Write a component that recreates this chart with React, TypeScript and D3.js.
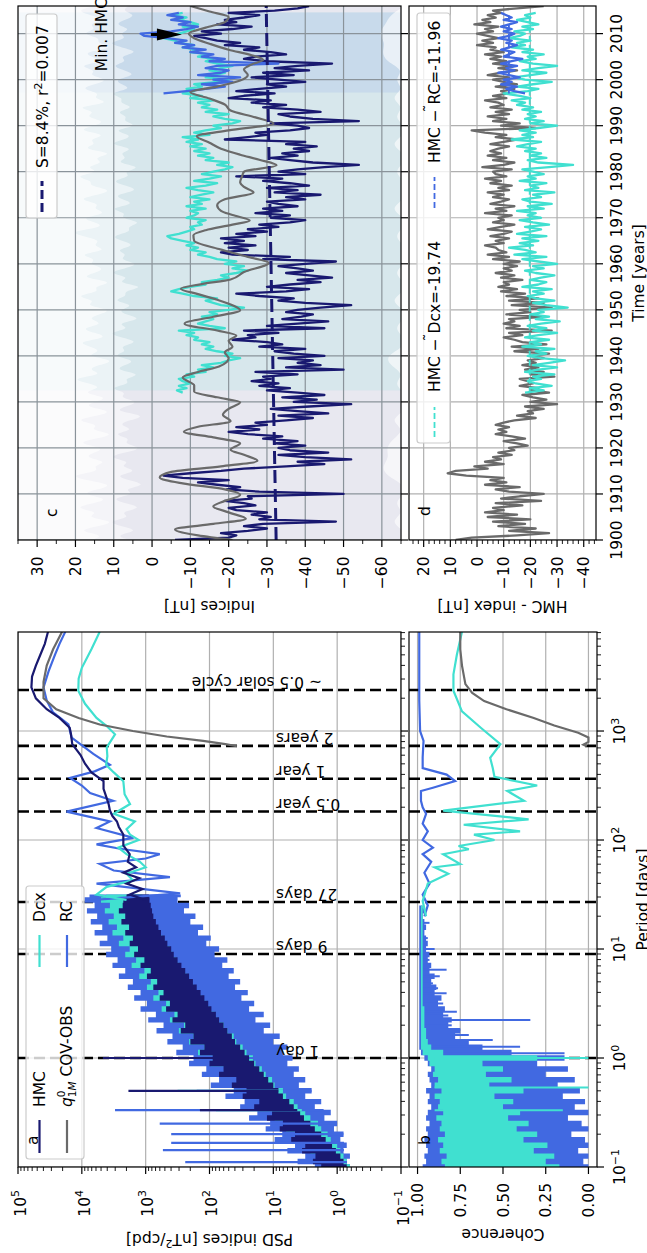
import React from 'react';
import * as d3 from 'd3';

const FONT = "'DejaVu Sans', sans-serif";
const NAVY = '#191970';
const TURQ = '#40e0d0';
const ROYAL = '#4169e1';
const GRAY = '#6a6a6a';
const GRID = '#b0b0b0';
const GRIDC = '#8a939a';
const FS = 15.5;

// ---------------- panel a / b : spectra ----------------
const periodTicks = [0.1, 1, 10, 100, 1000];
const periodTickExp = ['\u22121', '0', '1', '2', '3'];
const psdTicks = [0.1, 1, 10, 100, 1000, 10000, 100000];
const psdTickExp = ['\u22121', '0', '1', '2', '3', '4', '5'];
const cohTicks = [0, 0.25, 0.5, 0.75, 1];
const cohTickLabels = ['0.00', '0.25', '0.50', '0.75', '1.00'];
const markerPeriods = [1, 9, 27, 182.625, 365.25, 730.5, 2380];
const markerLabels = ['1 day', '9 days', '27 days', '0.5 year', '1 year', '2 years', '~ 0.5 solar cycle'];

// noisy short-period part: log10 period nodes (step 0.05) and log10 PSD envelopes
const bandLogP = [-1.0, -0.95, -0.9, -0.85, -0.8, -0.75, -0.7, -0.65, -0.6, -0.55, -0.5, -0.45, -0.4, -0.35, -0.3, -0.25, -0.2, -0.15, -0.1, -0.05, 0.0, 0.05, 0.1, 0.15, 0.2, 0.25, 0.3, 0.35, 0.4, 0.45, 0.5, 0.55, 0.6, 0.65, 0.7, 0.75, 0.8, 0.85, 0.9, 0.95, 1.0, 1.05, 1.1, 1.15, 1.2, 1.25, 1.3, 1.35, 1.4, 1.45, 1.5];
const rcBandHi = [0.35, 0.62, 0.5, 0.78, 0.66, 0.98, 0.86, 1.12, 1.05, 1.38, 1.25, 1.52, 1.45, 1.75, 1.62, 1.98, 1.85, 2.12, 2.05, 2.32, 2.25, 2.52, 2.42, 2.66, 2.58, 2.83, 2.72, 2.96, 2.84, 3.08, 2.98, 3.18, 3.08, 3.28, 3.2, 3.42, 3.32, 3.52, 3.44, 3.62, 3.54, 3.72, 3.6, 3.8, 3.68, 3.86, 3.76, 3.92, 3.8, 3.96, 3.88];
const rcBandLo = [-0.2, -0.15, -0.2, -0.1, -0.15, -0.05, -0.1, 0.05, 0.0, 0.2, 0.1, 0.35, 0.25, 0.5, 0.4, 0.6, 0.5, 0.68, 0.6, 0.78, 0.7, 0.85, 0.78, 1.0, 0.9, 1.15, 1.05, 1.28, 1.15, 1.38, 1.3, 1.5, 1.4, 1.6, 1.52, 1.7, 1.62, 1.8, 1.72, 1.92, 1.85, 2.05, 1.98, 2.18, 2.1, 2.3, 2.22, 2.4, 2.32, 2.5, 2.45];
const dcxBandHi = [0.1, 0.25, 0.2, 0.42, 0.35, 0.6, 0.52, 0.8, 0.7, 0.98, 0.9, 1.18, 1.08, 1.38, 1.3, 1.58, 1.48, 1.78, 1.7, 1.98, 1.9, 2.18, 2.08, 2.32, 2.25, 2.48, 2.4, 2.62, 2.55, 2.75, 2.68, 2.88, 2.8, 2.98, 2.92, 3.1, 3.02, 3.22, 3.15, 3.32, 3.25, 3.42, 3.35, 3.52, 3.45, 3.58, 3.5, 3.64, 3.56, 3.7, 3.62];
const dcxBandLo = [-0.2, -0.15, -0.1, -0.05, 0.0, 0.1, 0.15, 0.25, 0.3, 0.42, 0.5, 0.62, 0.68, 0.8, 0.85, 0.98, 1.02, 1.12, 1.18, 1.28, 1.32, 1.42, 1.48, 1.58, 1.62, 1.72, 1.78, 1.88, 1.92, 2.0, 2.05, 2.12, 2.18, 2.25, 2.3, 2.36, 2.42, 2.48, 2.52, 2.58, 2.62, 2.7, 2.74, 2.8, 2.84, 2.88, 2.92, 2.96, 3.0, 3.04, 3.05];
const hmcBandHi = [0.25, 0.38, 0.34, 0.55, 0.5, 0.72, 0.66, 0.9, 0.85, 1.1, 1.02, 1.3, 1.22, 1.48, 1.42, 1.65, 1.58, 1.85, 1.78, 2.0, 1.95, 2.15, 2.08, 2.3, 2.25, 2.45, 2.38, 2.58, 2.5, 2.68, 2.62, 2.78, 2.72, 2.88, 2.82, 2.98, 2.92, 3.08, 3.02, 3.18, 3.12, 3.25, 3.2, 3.32, 3.26, 3.38, 3.32, 3.42, 3.36, 3.35, 3.3];
const hmcBandLo = [-0.15, -0.1, -0.05, 0.02, 0.08, 0.18, 0.25, 0.35, 0.42, 0.52, 0.58, 0.68, 0.75, 0.85, 0.92, 1.0, 1.08, 1.15, 1.22, 1.3, 1.38, 1.45, 1.52, 1.6, 1.65, 1.72, 1.78, 1.85, 1.9, 1.97, 2.02, 2.08, 2.14, 2.2, 2.26, 2.32, 2.38, 2.44, 2.5, 2.56, 2.6, 2.66, 2.7, 2.76, 2.8, 2.84, 2.88, 2.9, 2.92, 2.94, 2.95];

// smoother long-period part (log10 period, log10 PSD)
const hmcLongLogP = [1.45, 1.5, 1.55, 1.6, 1.65, 1.7, 1.75, 1.8, 1.87, 1.95, 2.05, 2.12, 2.17, 2.22, 2.27, 2.33, 2.4, 2.47, 2.54, 2.62, 2.7, 2.78, 2.88, 2.97, 3.03, 3.12, 3.2, 3.3, 3.4, 3.5, 3.6, 3.7, 3.8, 3.91];
const hmcLongLogPsd = [3.0, 3.25, 3.05, 3.3, 3.1, 3.35, 3.15, 3.28, 3.25, 3.35, 3.35, 3.42, 3.45, 3.52, 3.56, 3.58, 3.62, 3.66, 3.66, 3.85, 3.95, 4.02, 4.15, 4.17, 4.19, 4.35, 4.55, 4.72, 4.79, 4.78, 4.72, 4.65, 4.58, 4.53];
const rcLongLogP = [1.45, 1.51, 1.6, 1.66, 1.72, 1.78, 1.83, 1.87, 1.92, 1.96, 2.02, 2.11, 2.17, 2.26, 2.36, 2.43, 2.5, 2.57, 2.63, 2.69, 2.79, 2.94, 3.06, 3.17, 3.28, 3.4, 3.55, 3.7, 3.8, 3.91];
const rcLongLogPsd = [3.8, 2.46, 3.77, 2.62, 3.5, 3.72, 3.0, 2.78, 3.4, 3.77, 3.19, 3.77, 3.56, 4.24, 3.51, 3.87, 4.0, 4.185, 3.8, 3.56, 3.82, 4.16, 4.21, 4.45, 4.55, 4.6, 4.52, 4.42, 4.35, 4.26];
const dcxLongLogP = [1.45, 1.5, 1.57, 1.63, 1.69, 1.75, 1.8, 1.87, 1.93, 2.0, 2.05, 2.1, 2.17, 2.24, 2.33, 2.42, 2.54, 2.62, 2.69, 2.77, 2.85, 2.97, 3.05, 3.12, 3.25, 3.37, 3.48, 3.58, 3.75, 3.91];
const dcxLongLogPsd = [3.3, 3.77, 3.61, 3.2, 3.3, 3.0, 3.09, 3.3, 3.43, 3.11, 3.245, 3.3, 3.17, 3.5, 3.245, 3.33, 3.35, 3.5, 3.62, 3.6, 3.61, 3.48, 3.62, 3.77, 3.95, 4.055, 4.05, 4.0, 3.85, 3.72];
const q1mLongLogP = [2.86, 2.88, 2.91, 2.95, 3.0, 3.06, 3.12, 3.2, 3.3, 3.45, 3.6, 3.75, 3.91];
const q1mLongLogPsd = [1.57, 1.75, 2.1, 2.67, 3.2, 3.72, 4.05, 4.4, 4.6, 4.6, 4.55, 4.45, 4.31];

// spectral spikes at daily harmonics (period [days], log10 PSD peak)
const hmcSpikeP = [1.0, 0.5, 0.333];
const hmcSpikeLog = [3.67, 3.27, 2.15];
const rcSpikeP = [0.333, 0.25, 0.2, 0.1667, 0.143, 0.111, 1.0, 0.5];
const rcSpikeLog = [3.48, 2.78, 2.6, 2.6, 2.73, 2.38, 2.5, 2.2];
const dcxSpikeP = [0.5, 0.333];
const dcxSpikeLog = [2.5, 1.9];

// coherence (log10 period nodes, step 0.05)
const cohBandLogP = [-1.0, -0.95, -0.9, -0.85, -0.8, -0.75, -0.7, -0.65, -0.6, -0.55, -0.5, -0.45, -0.4, -0.35, -0.3, -0.25, -0.2, -0.15, -0.1, -0.05, 0.0, 0.05, 0.1, 0.15, 0.2, 0.25, 0.3, 0.35, 0.4, 0.45, 0.5, 0.55, 0.6, 0.65, 0.7, 0.75, 0.8, 0.85, 0.9, 0.95, 1.0, 1.05, 1.1, 1.15, 1.2, 1.25, 1.3, 1.35, 1.4];
const rcCohHi = [0.97, 0.95, 0.96, 0.94, 0.95, 0.96, 0.94, 0.95, 0.93, 0.95, 0.94, 0.92, 0.94, 0.93, 0.95, 0.92, 0.93, 0.94, 0.92, 0.94, 0.96, 0.98, 0.99, 0.99, 0.99, 0.99, 0.99, 0.99, 0.99, 0.99, 0.99, 0.99, 0.99, 0.99, 0.99, 0.99, 0.99, 0.99, 0.99, 0.99, 0.99, 0.99, 0.99, 0.99, 0.99, 0.99, 0.99, 0.99, 0.99];
const rcCohLo = [0.0, 0.03, 0.0, 0.06, 0.0, 0.02, 0.1, 0.0, 0.04, 0.12, 0.0, 0.08, 0.02, 0.15, 0.05, 0.18, 0.08, 0.25, 0.12, 0.3, 0.14, 0.45, 0.62, 0.7, 0.78, 0.75, 0.82, 0.8, 0.85, 0.84, 0.88, 0.86, 0.9, 0.89, 0.92, 0.9, 0.93, 0.92, 0.94, 0.93, 0.95, 0.94, 0.95, 0.96, 0.95, 0.96, 0.97, 0.96, 0.97];
const dcxCohHi = [0.84, 0.86, 0.83, 0.87, 0.85, 0.88, 0.84, 0.87, 0.86, 0.89, 0.85, 0.88, 0.87, 0.9, 0.86, 0.9, 0.88, 0.91, 0.9, 0.93, 0.94, 0.97, 0.98, 0.98, 0.98, 0.98, 0.98, 0.98, 0.98, 0.98, 0.98, 0.98, 0.98, 0.98, 0.98, 0.98, 0.98, 0.98, 0.98, 0.98, 0.98, 0.98, 0.98, 0.98, 0.98, 0.98, 0.98, 0.98, 0.98];
const dcxCohLo = [0.17, 0.25, 0.2, 0.32, 0.24, 0.38, 0.3, 0.42, 0.35, 0.47, 0.4, 0.5, 0.44, 0.55, 0.38, 0.58, 0.45, 0.6, 0.5, 0.62, 0.3, 0.85, 0.92, 0.94, 0.95, 0.95, 0.96, 0.96, 0.96, 0.96, 0.97, 0.97, 0.97, 0.97, 0.97, 0.97, 0.97, 0.97, 0.97, 0.97, 0.97, 0.97, 0.97, 0.97, 0.97, 0.97, 0.97, 0.97, 0.97];
const rcCohLogP = [1.3, 1.4, 1.5, 1.6, 1.7, 1.8, 1.87, 1.93, 2.0, 2.08, 2.15, 2.24, 2.3, 2.36, 2.45, 2.48, 2.54, 2.6, 2.66, 2.76, 2.91, 3.0, 3.28, 3.6, 3.91];
const rcCoh = [0.96, 0.94, 0.97, 0.93, 0.96, 0.92, 0.97, 0.91, 0.97, 0.94, 0.97, 0.95, 0.97, 0.98, 0.98, 0.91, 0.78, 0.83, 0.97, 0.97, 0.965, 0.985, 0.99, 0.99, 0.99];
const dcxCohLogP = [1.3, 1.44, 1.6, 1.69, 1.75, 1.78, 1.87, 1.915, 1.945, 2.0, 2.05, 2.08, 2.14, 2.19, 2.27, 2.36, 2.45, 2.5, 2.58, 2.66, 2.755, 2.88, 3.03, 3.18, 3.37, 3.52, 3.7, 3.91];
const dcxCoh = [0.95, 0.97, 0.94, 0.82, 0.9, 0.75, 0.85, 0.7, 0.76, 0.55, 0.67, 0.4, 0.73, 0.35, 0.85, 0.377, 0.475, 0.3, 0.55, 0.56, 0.575, 0.515, 0.63, 0.74, 0.79, 0.79, 0.77, 0.74];
const q1mCohLogP = [2.86, 2.875, 2.9, 2.94, 2.985, 3.05, 3.12, 3.2, 3.275, 3.35, 3.43, 3.6, 3.75, 3.91];
const q1mCoh = [0.01, 0.03, 0.0, 0.0, 0.06, 0.2, 0.32, 0.48, 0.61, 0.68, 0.72, 0.74, 0.75, 0.75];
const rcCohSpikeLogP = [0.043, 0.104, 0.165, 0.21, 0.257, 0.3, 0.349, 0.39, 0.425, 0.5, 0.594, 0.64, 0.685, 0.75, 0.81, 0.9, 1.0, 1.1, 1.24];
const rcCohSpike = [0.14, 0.40, 0.56, 0.7, 0.75, 0.8, 0.34, 0.82, 0.77, 0.85, 0.83, 0.88, 0.91, 0.87, 0.83, 0.93, 0.9, 0.94, 0.93];
const dcxCohSpikeLogP = [0.0, -0.27, -0.48];
const dcxCohSpike = [0.0, 0.0, 0.15];

// ---------------- panel c / d : time series ----------------
const yearTicks = [1900, 1910, 1920, 1930, 1940, 1950, 1960, 1970, 1980, 1990, 2000, 2010];
const idxTicks = [30, 20, 10, 0, -10, -20, -30, -40, -50, -60];
const diffTicks = [20, 10, 0, -10, -20, -30, -40];
const hmcStartYear = 1900;
const dcxStartYear = 1932;
const rcStartYear = 1997;
const sampleStep = 0.5;
const hmcIndex = [
  -6, -20, -22, -18, -25, -30, -24, -29, -48, -28,
  -31, -26, -30, -22, -20, -27, -24, -19, -26, -25,
  -50, -28, -19.5, -23, -17, -12, -20, -8, -3, -10,
  -18, -24, -35, -45, -38, -52, -40, -33, -46, -36,
  -33, -40, -32, -38, -29, -34, -25, -20, -28, -22,
  -30, -27, -35, -42, -33, -46, -38, -31, -41, -52,
  -37, -43, -34, -45, -38, -30, -36, -28, -33, -26,
  -31, -29, -38, -27, -50, -35, -44, -38, -42, -33,
  -45, -37, -32, -40, -28, -34, -30, -21, -27, -25,
  -33, -24, -45, -30, -38, -46, -34, -39, -42, -35,
  -38, -44, -52, -40, -33, -37, -28, -22, -35, -41,
  -30, -36, -44, -38, -47, -41, -35, -42, -38, -33,
  -40, -48, -29, -36, -21, -18, -25, -20, -27, -19,
  -24, -18, -27, -22, -30, -25, -33, -28, -36, -40,
  -31, -36, -27, -34, -29, -38, -33, -30, -40, -35,
  -44, -32, -38, -30, -41, -36, -29, -34, -22, -40,
  -33, -38, -45, -54, -42, -36, -31, -38, -34, -41,
  -37, -43, -35, -40, -19, -25, -30, -27, -36, -41,
  -38, -31, -54, -42, -36, -33, -44, -38, -29, -35,
  -26, -31, -20, -24, -32, -22, -28, -35, -30, -40,
  -33, -26, -37, -29, -41, -32, -38, -47, -30, -24,
  -27, -35, -31, -24, -28, -19, -23, -17, -14, -11,
  -18, -13, -21, -26, -17, -22, -19, -24, -28, -20,
  -32, -38, -41];
const dcxIndex = [
  -8, -6.5, -9, -7, -10, -8, -7, -11, -9, -14, -12, -16,
  -13, -18, -20, -23, -19, -21, -17, -14, -16, -13, -15, -11,
  -12, -9, -11, -7, -19, -15, -12, -14, -16, -13, -17, -15,
  -20, -24, -18, -16, -14, -17, -11, -8, -5, -7, -10, -14,
  -13, -17, -20, -18, -22, -25, -21, -24, -19, -22, -17, -15,
  -12, -14, -10, -12, -9, -11, -8, -5, -4, -7, -9, -11,
  -10, -13, -12, -14, -9, -11, -12, -10, -14, -9, -13, -11,
  -15, -10, -13, -16, -12, -9, -14, -17, -11, -15, -18, -13,
  -16, -19, -21, -17, -20, -14, -16, -12, -15, -11, -14, -10,
  -13, -9, -12, -8, -15, -11, -14, -18, -16, -21, -23, -19,
  -16, -20, -14, -17, -13, -15, -12, -16, -10, -13, -8, -11,
  -9, -13, -11, -17, -20, -14, -16, -19, -15, -18, -21, -17,
  -14, -16, -12, -15, -10, -12, -8, -11, -7, -6, -3, -5,
  -7, -9, -11, -8, -12, -10, -7, -9, -5, -8];
const rcIndex = [
  -3, -9, -14, -19, -13, -21, -16, -23, -12, -18, -20, -14,
  -17, -33, -15, -19, -13, -16, -10, -14, -8, -11, -6, -9,
  -4, 2, 3, -5, -9, -12, -7, -10, -5, -8, -4, -7];
const q1mYears = [1900.0, 1901.0, 1902.3, 1903.5, 1904.6, 1906.0, 1907.3, 1908.5, 1909.8, 1911.0, 1912.3, 1913.6, 1914.8, 1916.0, 1917.2, 1918.5, 1919.6, 1921.0, 1922.3, 1923.5, 1924.6, 1925.8, 1927.2, 1928.5, 1929.9, 1931.0, 1932.2, 1933.6, 1935.3, 1936.5, 1937.7, 1939.5, 1940.8, 1942.0, 1943.3, 1944.4, 1945.5, 1947.0, 1948.5, 1949.9, 1951.0, 1952.2, 1953.4, 1954.6, 1955.6, 1956.6, 1958.2, 1960.2, 1961.5, 1963.2, 1965.0, 1966.2, 1967.3, 1968.5, 1969.4, 1970.6, 1971.5, 1972.7, 1974.0, 1975.5, 1976.7, 1977.7, 1979.0, 1980.0, 1981.4, 1982.6, 1983.7, 1985.0, 1986.3, 1987.7, 1989.0, 1990.5, 1991.8, 1993.3, 1994.6, 1995.9, 1997.3, 1998.5, 1999.8, 2001.0, 2002.2, 2003.3, 2004.3, 2005.3, 2006.5, 2007.8, 2009.0, 2010.0, 2011.3, 2012.5, 2013.6, 2014.8, 2016.0];
const q1mIndex = [-21, -12, -6, -16, -24.5, -20, -16, -19, -23, -19, -8, -2, -5, -18, -27.5, -24, -20.5, -23, -16, -8.3, -12, -20.5, -18.5, -20, -23, -17, -11, -11, -8, -12, -17.5, -20, -19, -21, -20, -22, -17, -8.5, -16, -23, -21, -17, -12, -7.5, -13, -20.5, -24, -30.5, -25, -17.5, -11, -10.8, -14, -21, -25.5, -21, -18, -17, -19, -26.5, -24, -23, -23.5, -24, -32.5, -28, -23, -18, -15, -11.7, -20, -31.7, -27, -20.5, -19, -15, -10, -17, -23, -25, -24, -26, -29, -26, -20, -15, -11, -9.6, -14, -19, -20, -15, -10];
const trendYears = [1900, 2016];
const trendIndex = [-32.4, -29.8];
const minYear = 2009.8;
const minValue = -7.8;
const minTextValue = 11.8;

const diffQ1m = [
  8, 2, -15, -27, -12, -22, -8, -18, -6, -20,
  -4, -15, -3, -10, -6, -17, -7, -24, -9, -16,
  -25, -12, -7, -16, -3, -11, -5, -10, 4, 11,
  8, -4, 1, -10, -3, -9, -6, -13, -8, -14,
  -12, -19, -15, -10, -18, -13, -7, -11, -8, -12,
  -7, -10, -14, -22, -15, -21, -19, -25, -18, -30,
  -20, -26, -21, -17, -27, -20, -23, -16, -21, -19,
  -16, -29, -20, -25, -18, -23, -17, -22, -19, -25,
  -20, -27, -14, -23, -13, -26, -17, -14, -10, -17,
  -12, -28, -11, -16, -10, -14, -12, -25, -11, -20,
  -16, -28, -13, -25, -12, -23, -11, -18, -9, -15,
  -8, -12, -10, -17, -9, -14, -7, -13, -10, -15,
  -10, -16, -6, -12, -4, -11, -8, -7, -3, -10,
  -7, -12, -5, -10, -13, -4, -9, -14, -6, -10,
  -8, -13, -3, -11, -7, -14, -5, -9, -12, -6,
  -10, -4, -12, -8, -13, -5, -9, -3, -11, -7,
  -6, -13, -2, -10, -14, -6, -11, -4, -9, -5,
  -8, -12, -5, -10, -15, -7, -11, -3, 2, -22,
  -9, -16, -6, -11, -4, -12, -7, -13, -5, -10,
  -8, -3, -11, -6, -12, -9, -14, -7, -15, -10,
  -6, -12, -4, -9, -15, -8, -13, -6, -11, -5,
  -9, -3, -10, -5, -7, 0, -6, -2, -8, -4,
  0, -6, -3, -8, 1, -5, -2, -7, -4, -9,
  -6, -15, -25];
const diffDcx = [
  -18, -25, -20, -28, -22, -19, -24, -21, -29, -18, -23, -30,
  -21, -27, -33, -24, -19, -26, -22, -29, -17, -24, -20, -27,
  -18, -23, -30, -21, -26, -19, -24, -31, -22, -27, -20, -25,
  -23, -34, -26, -21, -29, -22, -19, -25, -21, -28, -17, -23,
  -26, -20, -24, -29, -22, -18, -25, -21, -30, -23, -17, -26,
  -14, -22, -18, -12, -21, -16, -23, -17, -26, -15, -20, -24,
  -18, -27, -21, -16, -24, -19, -22, -15, -25, -19, -28, -20,
  -17, -24, -21, -29, -18, -23, -20, -26, -16, -22, -19, -25,
  -21, -17, -27, -36, -23, -19, -26, -20, -24, -18, -22, -15,
  -19, -24, -13, -21, -17, -22, -16, -23, -30, -20, -25, -18,
  -22, -19, -24, -17, -21, -15, -18, -13, -20, -16, -10, -19,
  -23, -15, -21, -28, -18, -14, -20, -26, -17, -23, -30, -21,
  -16, -22, -19, -25, -17, -21, -13, -18, -15, -20, -12, -16,
  -18, -14, -21, -17, -23, -19, -15, -20, -18, -22];
const diffRc = [
  -18, -14, -11, -15, -9, -13, -10, -16, -12, -8, -14, -11,
  -15, -9, -13, -17, -10, -12, -14, -9, -12, -15, -11, -13,
  -8, -12, -14, -10, -13, -9, -12, -15, -10, -13, -11, -9];
const meanDcx = -19.74;
const meanRc = -11.96;
const meanDcxSpan = [1932, 2014.5];
const meanRcSpan = [1997, 2014.5];
const spanHmc = [1900, 2016];
const spanDcx = [1932.5, 2014.6];
const spanRc = [1997.2, 2014.6];

// light shading inside panel c (yearly from 1900; values in nT where the pale band ends)
const shadeStart = 1900;
const shadeFar = [
  6, 10, 3, 8, 12, 5, 9, 2, 7, 11,
  4, 8, 1, 6, 10, 3, 9, 5, 12, 7,
  2, 8, 5, 11, 4, 9, 6, 1, 10, 7,
  3, 9, 6, 12, 5, 8, 2, 10, 7, 4,
  11, 6, 9, 3, 8, 12, 5, 10, 2, 7,
  9, 4, 11, 6, 8, 1, 10, 5, 12, 7,
  3, 9, 6, 10, 4, 8, 11, 5, 7, 2,
  9, 6, 12, 4, 8, 10, 3, 7, 11, 5,
  8, 2, 10, 6, 9, 4, 12, 7, 5, 11,
  3, 8, 6, 10, 4, 9, 7, 12, 5, 8,
  10, 4, 7, 11, 6, 9, 3, 8, 12, 6,
  9, 5, 10, 7, 4, 8, 6];
const shadeNear = [
  16, 12, 20, 14, 9, 18, 13, 21, 15, 11,
  19, 14, 10, 17, 22, 13, 16, 11, 18, 15,
  12, 20, 15, 9, 17, 13, 21, 14, 10, 18,
  15, 11, 19, 13, 16, 22, 12, 17, 14, 9,
  18, 13, 16, 20, 11, 15, 19, 12, 17, 14,
  10, 18, 14, 21, 13, 16, 9, 19, 15, 12,
  17, 14, 20, 11, 16, 13, 18, 22, 12, 15,
  19, 11, 16, 13, 20, 14, 10, 17, 15, 21,
  13, 18, 12, 16, 9, 19, 14, 17, 11, 20,
  15, 12, 18, 14, 21, 10, 16, 13, 19, 15,
  11, 17, 14, 20, 12, 16, 18, 9, 15, 13,
  19, 14, 17, 12, 16, 20, 15];
const shadeLowStep = 2;
const shadeLow = [-66, -66, -62, -66, -63, -66, -66, -61, -60, -62, -61, -63, -66, -62, -66, -66, -66, -63, -66, -62, -61, -66, -66, -63, -66, -66, -62, -66, -66, -63, -66, -66, -66, -63, -66, -66, -62, -66, -66, -66, -63, -66, -66, -62, -66, -66, -63, -66, -62, -66, -63, -66, -61, -60, -61, -59, -61, -62, -66];

// ---------------- layout (figure drawn landscape, then rotated) ----------------
const FW = 1253;
const A = { x0: 86, x1: 621, y0: 18, y1: 401 };
const B = { x0: 86, x1: 621, y0: 409, y1: 597 };
const Cp = { x0: 713, x1: 1247, y0: 18, y1: 401 };
const D = { x0: 713, x1: 1247, y0: 409, y1: 596 };

function logMinor(e0: number, e1: number, lo: number, hi: number) {
  const out: number[] = [];
  for (let e = e0; e <= e1; e++) for (let m = 2; m <= 9; m++) {
    const v = m * Math.pow(10, e);
    if (v > lo && v < hi) out.push(v);
  }
  return out;
}

const pow10 = (v: number) => Math.pow(10, v);

export default function App() {
  const perX = d3.scaleLog().domain([0.1, 8100]).range([A.x0, A.x1]);
  const psdY = d3.scaleLog().domain([0.1, 1e5]).range([A.y1, A.y0]);
  const cohY = d3.scaleLinear().domain([-0.05, 1.05]).range([B.y1, B.y0]);
  const timeX = d3.scaleLinear().domain([1900, 2016]).range([Cp.x0, Cp.x1]);
  const idxY = d3.scaleLinear().domain([-65, 35]).range([Cp.y1, Cp.y0]);
  const difY = d3.scaleLinear().domain([-44.6, 25.5]).range([D.y1, D.y0]);

  const bandPath = (lp: number[], hi: number[], lo: number[], yS: any, conv: (v: number) => number) =>
    d3.area<number>()
      .x((_, i) => perX(pow10(lp[i])))
      .y0((_, i) => yS(conv(lo[i])))
      .y1((_, i) => yS(conv(hi[i])))
      .curve(d3.curveStep)(lp) || '';
  const linePath = (xs: number[], ys: number[], xf: (v: number) => number, yf: (v: number) => number) =>
    d3.line<number>().x((_, i) => xf(xs[i])).y((_, i) => yf(ys[i]))(xs) || '';

  const id = (v: number) => v;
  const perFromLog = (v: number) => perX(pow10(v));
  const psdFromLog = (v: number) => psdY(pow10(v));

  const interpLo = (lp: number[], lo: number[], p: number) => {
    const l = Math.log10(p);
    const i = Math.max(0, Math.min(lp.length - 2, d3.bisectRight(lp, l) - 1));
    const t = (l - lp[i]) / (lp[i + 1] - lp[i]);
    return lo[i] + (lo[i + 1] - lo[i]) * t;
  };

  const hmcYears = hmcIndex.map((_, i) => hmcStartYear + i * sampleStep);
  const dcxYears = dcxIndex.map((_, i) => dcxStartYear + i * sampleStep);
  const rcYears = rcIndex.map((_, i) => rcStartYear + i * sampleStep);
  const shadeYears = shadeFar.map((_, i) => shadeStart + i);
  const shadeLowYears = shadeLow.map((_, i) => shadeStart + i * shadeLowStep);

  const shadeTop = d3.area<number>().x((_, i) => timeX(shadeYears[i])).y0(idxY(35)).curve(d3.curveBasis);
  const q1mLine = d3.line<number>().x((_, i) => timeX(q1mYears[i])).y((_, i) => idxY(q1mIndex[i])).curve(d3.curveMonotoneX);

  const minorPer = logMinor(-1, 3, 0.1, 8100);
  const minorPsd = logMinor(-1, 4, 0.1, 1e5);
  const minorIdx = [35, 25, 15, 5, -5, -15, -25, -35, -45, -55, -65];
  const minorDiff = d3.range(24, -45, -2).filter(v => v % 10 !== 0);

  const tick = (key: string, x1: number, y1: number, x2: number, y2: number, w = 1.2) =>
    <line key={key} x1={x1} y1={y1} x2={x2} y2={y2} stroke="#000" strokeWidth={w} />;

  const markerEnd = 276;
  const markerSolarStart = 322;

  return (
    <svg width={647} height={1253} style={{ position: 'absolute', left: 0, top: 0 }} fontFamily={FONT}>
      <rect x={0} y={0} width={647} height={1253} fill="#fff" />
      <defs>
        <clipPath id="clipA"><rect x={A.x0} y={A.y0} width={A.x1 - A.x0} height={A.y1 - A.y0} /></clipPath>
        <clipPath id="clipB"><rect x={B.x0} y={B.y0} width={B.x1 - B.x0} height={B.y1 - B.y0} /></clipPath>
        <clipPath id="clipC"><rect x={Cp.x0} y={Cp.y0} width={Cp.x1 - Cp.x0} height={Cp.y1 - Cp.y0} /></clipPath>
        <clipPath id="clipD"><rect x={D.x0} y={D.y0} width={D.x1 - D.x0} height={D.y1 - D.y0} /></clipPath>
      </defs>
      <g transform={`translate(0,${FW}) rotate(-90)`}>
        {/* ================= PANEL A ================= */}
        <g clipPath="url(#clipA)">
          {periodTicks.map(t => <line key={'ga' + t} x1={perX(t)} x2={perX(t)} y1={A.y0} y2={A.y1} stroke={GRID} strokeWidth={1.2} />)}
          {psdTicks.map(t => <line key={'gap' + t} x1={A.x0} x2={A.x1} y1={psdY(t)} y2={psdY(t)} stroke={GRID} strokeWidth={1.2} />)}
          {markerPeriods.map(p => <line key={'ma' + p} x1={perX(p)} x2={perX(p)} y1={A.y0} y2={A.y1} stroke="#000" strokeWidth={2.6} strokeDasharray="11,5" />)}
          <path d={bandPath(bandLogP, rcBandHi, rcBandLo, psdY, pow10)} fill={ROYAL} />
          <path d={bandPath(bandLogP, dcxBandHi, dcxBandLo, psdY, pow10)} fill={TURQ} />
          <path d={bandPath(bandLogP, hmcBandHi, hmcBandLo, psdY, pow10)} fill={NAVY} />
          {rcSpikeP.map((p, i) => <line key={'rs' + i} x1={perX(p)} x2={perX(p)} y1={psdY(pow10(rcSpikeLog[i]))} y2={psdY(pow10(interpLo(bandLogP, rcBandLo, p)))} stroke={ROYAL} strokeWidth={2.2} />)}
          {dcxSpikeP.map((p, i) => <line key={'ds' + i} x1={perX(p)} x2={perX(p)} y1={psdY(pow10(dcxSpikeLog[i]))} y2={psdY(pow10(interpLo(bandLogP, dcxBandLo, p)))} stroke={TURQ} strokeWidth={2.2} />)}
          {hmcSpikeP.map((p, i) => <line key={'hs' + i} x1={perX(p)} x2={perX(p)} y1={psdY(pow10(hmcSpikeLog[i]))} y2={psdY(pow10(interpLo(bandLogP, hmcBandLo, p)))} stroke={NAVY} strokeWidth={2.2} />)}
          <path d={linePath(rcLongLogP, rcLongLogPsd, perFromLog, psdFromLog)} fill="none" stroke={ROYAL} strokeWidth={2.2} />
          <path d={linePath(dcxLongLogP, dcxLongLogPsd, perFromLog, psdFromLog)} fill="none" stroke={TURQ} strokeWidth={2.2} />
          <path d={linePath(hmcLongLogP, hmcLongLogPsd, perFromLog, psdFromLog)} fill="none" stroke={NAVY} strokeWidth={2.2} />
          <path d={linePath(q1mLongLogP, q1mLongLogPsd, perFromLog, psdFromLog)} fill="none" stroke={GRAY} strokeWidth={2.2} />
        </g>
        {markerPeriods.map((p, i) => (
          <text key={'mt' + i} transform={`translate(${perX(p) + 12.5},${i === 6 ? markerSolarStart : markerEnd}) rotate(-90)`}
            textAnchor={i === 6 ? 'start' : 'end'} fontSize={FS}>{markerLabels[i]}</text>
        ))}
        <rect x={A.x0} y={A.y0} width={A.x1 - A.x0} height={A.y1 - A.y0} fill="none" stroke="#000" strokeWidth={1.2} />
        {psdTicks.map((t, i) => (
          <g key={'pt' + t}>
            {tick('ptl' + t, A.x0, psdY(t), A.x0 - 7, psdY(t))}
            <text x={63} y={psdY(t) + 7.7} textAnchor="end" fontSize={FS}>10<tspan dy={-7} fontSize={11}>{psdTickExp[i]}</tspan></text>
          </g>
        ))}
        {minorPsd.map(t => tick('pm' + t, A.x0, psdY(t), A.x0 - 4, psdY(t), 0.9))}
        {periodTicks.map(t => tick('pat' + t, perX(t), A.y1, perX(t), A.y1 + 7))}
        {minorPer.map(t => tick('pam' + t, perX(t), A.y1, perX(t), A.y1 + 4, 0.9))}
        <text transform={`translate(19.5,${(A.y0 + A.y1) / 2}) rotate(-90)`} textAnchor="middle" fontSize={FS}>PSD indices [nT<tspan dy={-6} fontSize={11}>2</tspan><tspan dy={6}>/cpd]</tspan></text>
        {/* legend a */}
        <rect x={94} y={26} width={273} height={58} rx={3} fill="#fff" fillOpacity={0.8} stroke="#cccccc" strokeWidth={1.2} />
        <line x1={100} x2={133} y1={39.5} y2={39.5} stroke={NAVY} strokeWidth={2.2} />
        <text x={146} y={45} fontSize={FS}>HMC</text>
        <line x1={100} x2={133} y1={67} y2={67} stroke={GRAY} strokeWidth={2.2} />
        <text x={146} y={72} fontSize={FS}><tspan fontStyle="italic">q</tspan><tspan dy={-7} fontSize={10.5}>0</tspan><tspan dx={-6.7} dy={11} fontSize={10.5}>1</tspan><tspan fontSize={10.5} fontStyle="italic">M</tspan><tspan dy={-4}> COV-OBS</tspan></text>
        <line x1={286} x2={318} y1={39.5} y2={39.5} stroke={TURQ} strokeWidth={2.2} />
        <text x={331} y={45} fontSize={FS}>Dcx</text>
        <line x1={286} x2={318} y1={67} y2={67} stroke={ROYAL} strokeWidth={2.2} />
        <text x={331} y={72} fontSize={FS}>RC</text>
        <text x={108} y={38} fontSize={FS}>a</text>

        {/* ================= PANEL B ================= */}
        <g clipPath="url(#clipB)">
          {periodTicks.map(t => <line key={'gb' + t} x1={perX(t)} x2={perX(t)} y1={B.y0} y2={B.y1} stroke={GRID} strokeWidth={1.2} />)}
          {cohTicks.map(t => <line key={'gbc' + t} x1={B.x0} x2={B.x1} y1={cohY(t)} y2={cohY(t)} stroke={GRID} strokeWidth={1.2} />)}
          {markerPeriods.map(p => <line key={'mb' + p} x1={perX(p)} x2={perX(p)} y1={B.y0} y2={B.y1} stroke="#000" strokeWidth={2.6} strokeDasharray="11,5" />)}
          <path d={bandPath(cohBandLogP, rcCohHi, rcCohLo, cohY, id)} fill={ROYAL} />
          {rcCohSpikeLogP.map((l, i) => <line key={'rcs' + i} x1={perFromLog(l)} x2={perFromLog(l)} y1={cohY(0.98)} y2={cohY(rcCohSpike[i])} stroke={ROYAL} strokeWidth={2} />)}
          <path d={bandPath(cohBandLogP, dcxCohHi, dcxCohLo, cohY, id)} fill={TURQ} />
          {dcxCohSpikeLogP.map((l, i) => <line key={'dcs' + i} x1={perFromLog(l)} x2={perFromLog(l)} y1={cohY(0.9)} y2={cohY(dcxCohSpike[i])} stroke={TURQ} strokeWidth={2} />)}
          <path d={linePath(rcCohLogP, rcCoh, perFromLog, cohY)} fill="none" stroke={ROYAL} strokeWidth={2.2} />
          <path d={linePath(dcxCohLogP, dcxCoh, perFromLog, cohY)} fill="none" stroke={TURQ} strokeWidth={2.2} />
          <path d={linePath(q1mCohLogP, q1mCoh, perFromLog, cohY)} fill="none" stroke={GRAY} strokeWidth={2.2} />
        </g>
        <rect x={B.x0} y={B.y0} width={B.x1 - B.x0} height={B.y1 - B.y0} fill="none" stroke="#000" strokeWidth={1.2} />
        {cohTicks.map((t, i) => (
          <g key={'ct' + t}>
            {tick('ctl' + t, B.x0, cohY(t), B.x0 - 7, cohY(t))}
            <text x={70} y={cohY(t) + 5.6} textAnchor="end" fontSize={FS}>{cohTickLabels[i]}</text>
          </g>
        ))}
        {periodTicks.map((t, i) => (
          <g key={'bt' + t}>
            {tick('btl' + t, perX(t), B.y1, perX(t), B.y1 + 7)}
            <text x={perX(t)} y={625} textAnchor="middle" fontSize={FS}>10<tspan dy={-6.5} fontSize={11}>{periodTickExp[i]}</tspan></text>
          </g>
        ))}
        {minorPer.map(t => tick('bm' + t, perX(t), B.y1, perX(t), B.y1 + 4, 0.9))}
        <text transform={`translate(24.5,${(B.y0 + B.y1) / 2}) rotate(-90)`} textAnchor="middle" fontSize={FS}>Coherence</text>
        <text x={(B.x0 + B.x1) / 2} y={647.5} textAnchor="middle" fontSize={FS}>Period [days]</text>
        <text x={108} y={430} fontSize={FS}>b</text>

        {/* ================= PANEL C ================= */}
        <g clipPath="url(#clipC)">
          <rect x={timeX(spanHmc[0])} y={Cp.y0} width={timeX(spanHmc[1]) - timeX(spanHmc[0])} height={Cp.y1 - Cp.y0} fill={NAVY} fillOpacity={0.1} />
          <rect x={timeX(spanDcx[0])} y={Cp.y0} width={timeX(spanDcx[1]) - timeX(spanDcx[0])} height={Cp.y1 - Cp.y0} fill={TURQ} fillOpacity={0.1} />
          <rect x={timeX(spanRc[0])} y={Cp.y0} width={timeX(spanRc[1]) - timeX(spanRc[0])} height={Cp.y1 - Cp.y0} fill={ROYAL} fillOpacity={0.1} />
          <path d={shadeTop.y1((_, i) => idxY(shadeFar[i]))(shadeFar) || ''} fill="#fff" fillOpacity={0.5} />
          <path d={shadeTop.y1((_, i) => idxY(shadeNear[i]))(shadeNear) || ''} fill="#fff" fillOpacity={0.6} />
          <path d={d3.area<number>().x((_, i) => timeX(shadeLowYears[i])).y0(idxY(-65)).y1((_, i) => idxY(shadeLow[i])).curve(d3.curveBasis)(shadeLow) || ''} fill="#fff" fillOpacity={0.6} />
          {yearTicks.map(t => <line key={'gc' + t} x1={timeX(t)} x2={timeX(t)} y1={Cp.y0} y2={Cp.y1} stroke={GRIDC} strokeWidth={1.2} />)}
          {idxTicks.map(t => <line key={'gci' + t} x1={Cp.x0} x2={Cp.x1} y1={idxY(t)} y2={idxY(t)} stroke={GRIDC} strokeWidth={1.2} />)}
          <path d={linePath(hmcYears, hmcIndex, timeX, idxY)} fill="none" stroke={NAVY} strokeWidth={2.3} strokeLinejoin="round" />
          <path d={linePath(dcxYears, dcxIndex, timeX, idxY)} fill="none" stroke={TURQ} strokeWidth={2.3} strokeLinejoin="round" />
          <path d={linePath(rcYears, rcIndex, timeX, idxY)} fill="none" stroke={ROYAL} strokeWidth={2.3} strokeLinejoin="round" />
          <path d={q1mLine(q1mIndex) || ''} fill="none" stroke={GRAY} strokeWidth={2.2} />
          <path d={linePath(trendYears, trendIndex, timeX, idxY)} fill="none" stroke={NAVY} strokeWidth={3} strokeDasharray="13,6" />
          <line x1={timeX(minYear)} x2={timeX(minYear)} y1={idxY(minTextValue) + 44} y2={idxY(minValue) - 24} stroke="#000" strokeWidth={3} />
          <polygon points={`${timeX(minYear) - 6},${idxY(minValue) - 25} ${timeX(minYear) + 6},${idxY(minValue) - 25} ${timeX(minYear)},${idxY(minValue)}`} fill="#000" />
        </g>
        <text x={timeX(minYear)} y={idxY(minTextValue)} textAnchor="middle" fontSize={FS}>Min. HMC</text>
        <rect x={Cp.x0} y={Cp.y0} width={Cp.x1 - Cp.x0} height={Cp.y1 - Cp.y0} fill="none" stroke="#000" strokeWidth={1.2} />
        {idxTicks.map(t => (
          <g key={'it' + t}>
            {tick('itl' + t, Cp.x0, idxY(t), Cp.x0 - 7, idxY(t))}
            <text x={Cp.x0 - 16.5} y={idxY(t) + 5.6} textAnchor="end" fontSize={FS}>{t < 0 ? '\u2212' + (-t) : String(t)}</text>
          </g>
        ))}
        {minorIdx.map(t => tick('im' + t, Cp.x0, idxY(t), Cp.x0 - 4, idxY(t), 0.9))}
        {yearTicks.map(t => tick('ct' + t, timeX(t), Cp.y1, timeX(t), Cp.y1 + 7))}
        <text transform={`translate(652.5,${(Cp.y0 + Cp.y1) / 2}) rotate(-90)`} textAnchor="middle" fontSize={FS}>Indices [nT]</text>
        <rect x={1035} y={26} width={204} height={31} rx={3} fill="#fff" fillOpacity={0.8} stroke="#cccccc" strokeWidth={1.2} />
        <line x1={1041} x2={1072} y1={42} y2={42} stroke={NAVY} strokeWidth={3} strokeDasharray="9,4" />
        <text x={1085} y={47.5} fontSize={FS}>S=8.4%, r<tspan dy={-6} fontSize={11}>2</tspan><tspan dy={6}>=0.007</tspan></text>
        <text x={736} y={57} fontSize={FS}>c</text>

        {/* ================= PANEL D ================= */}
        <g clipPath="url(#clipD)">
          {yearTicks.map(t => <line key={'gd' + t} x1={timeX(t)} x2={timeX(t)} y1={D.y0} y2={D.y1} stroke={GRID} strokeWidth={1.2} />)}
          {diffTicks.map(t => <line key={'gdd' + t} x1={D.x0} x2={D.x1} y1={difY(t)} y2={difY(t)} stroke={GRID} strokeWidth={1.2} />)}
          <path d={linePath(hmcYears, diffQ1m, timeX, difY)} fill="none" stroke={GRAY} strokeWidth={2.3} strokeLinejoin="round" />
          <path d={linePath(dcxYears, diffDcx, timeX, difY)} fill="none" stroke={TURQ} strokeWidth={2.3} strokeLinejoin="round" />
          <path d={linePath(rcYears, diffRc, timeX, difY)} fill="none" stroke={ROYAL} strokeWidth={2.3} strokeLinejoin="round" />
          <line x1={timeX(meanDcxSpan[0])} x2={timeX(meanDcxSpan[1])} y1={difY(meanDcx)} y2={difY(meanDcx)} stroke={TURQ} strokeWidth={1.8} strokeDasharray="6,3" />
          <line x1={timeX(meanRcSpan[0])} x2={timeX(meanRcSpan[1])} y1={difY(meanRc)} y2={difY(meanRc)} stroke={ROYAL} strokeWidth={1.8} strokeDasharray="6,3" />
        </g>
        <rect x={D.x0} y={D.y0} width={D.x1 - D.x0} height={D.y1 - D.y0} fill="none" stroke="#000" strokeWidth={1.2} />
        {diffTicks.map(t => (
          <g key={'dt' + t}>
            {tick('dtl' + t, D.x0, difY(t), D.x0 - 7, difY(t))}
            <text x={D.x0 - 16.5} y={difY(t) + 5.6} textAnchor="end" fontSize={FS}>{t < 0 ? '\u2212' + (-t) : String(t)}</text>
          </g>
        ))}
        {minorDiff.map(t => tick('dm' + t, D.x0, difY(t), D.x0 - 4, difY(t), 0.9))}
        {yearTicks.map(t => (
          <g key={'yt' + t}>
            {tick('ytl' + t, timeX(t), D.y1, timeX(t), D.y1 + 7)}
            <text x={timeX(t)} y={621.5} textAnchor="middle" fontSize={FS}>{t}</text>
          </g>
        ))}
        <text transform={`translate(652.5,${(D.y0 + D.y1) / 2}) rotate(-90)`} textAnchor="middle" fontSize={FS}>HMC - index [nT]</text>
        <text x={(D.x0 + D.x1) / 2} y={643.5} textAnchor="middle" fontSize={FS}>Time [years]</text>
        <rect x={810} y={417} width={430} height={33} rx={3} fill="#fff" fillOpacity={0.8} stroke="#cccccc" strokeWidth={1.2} />
        <line x1={816} x2={846} y1={434.5} y2={434.5} stroke={TURQ} strokeWidth={1.8} strokeDasharray="6,3" />
        <text x={861} y={440} fontSize={FS}>HMC {'\u2212'} <tspan dx={-8} dy={-5}>{'\u02DC'}</tspan><tspan dx={0} dy={5}>Dcx=-19.74</tspan></text>
        <line x1={1045} x2={1076} y1={434.5} y2={434.5} stroke={ROYAL} strokeWidth={1.8} strokeDasharray="6,3" />
        <text x={1090} y={440} fontSize={FS}>HMC {'\u2212'} <tspan dx={-8} dy={-5}>{'\u02DC'}</tspan><tspan dx={0} dy={5}>RC=-11.96</tspan></text>
        <text x={737} y={429.5} fontSize={FS}>d</text>
      </g>
    </svg>
  );
}
